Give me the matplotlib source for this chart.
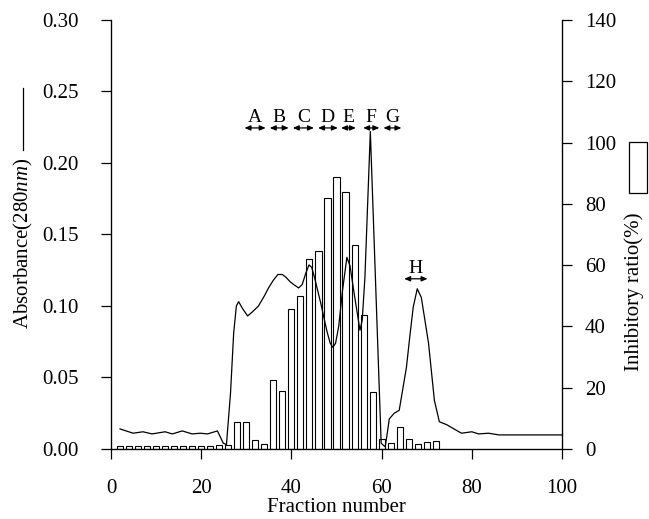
import matplotlib
matplotlib.use("Agg")
import matplotlib.pyplot as plt
from matplotlib.lines import Line2D
from matplotlib.patches import Rectangle

plt.rcParams['font.family'] = 'Liberation Serif'
plt.rcParams['mathtext.fontset'] = 'custom'
plt.rcParams['mathtext.rm'] = 'Liberation Serif'
plt.rcParams['mathtext.it'] = 'Liberation Serif:italic'

# Inhibitory ratio bars (%), one per even fraction
bar_fraction = [2, 4, 6, 8, 10, 12, 14, 16, 18, 20, 22, 24, 26, 28, 30, 32, 34, 36,
                38, 40, 42, 44, 46, 48, 50, 52, 54, 56, 58, 60, 62, 64, 66, 68, 70, 72]
inhibitory = [1.0, 1.0, 1.0, 1.0, 1.0, 1.0, 1.0, 1.0, 1.0, 1.0, 1.0, 1.2, 1.2, 8.8, 8.8, 3.0, 1.6, 22.5,
              19.0, 45.7, 50.0, 62.0, 64.6, 82.0, 88.8, 84.0, 66.6, 43.7, 18.6, 3.4, 1.8, 7.2, 3.3, 1.6, 2.4, 2.6]

# Absorbance at 280 nm
abs_fraction = [2.0, 4.9, 7.1, 9.1, 12.0, 13.6, 15.8, 18.0, 19.8, 21.4, 23.6, 24.9, 25.6, 26.5, 27.2,
                27.8, 28.3, 29.2, 30.3, 31.4, 32.7, 34.0, 35.0, 36.0, 37.0, 38.0, 38.8, 39.7, 40.5,
                41.6, 42.4, 43.2, 43.9, 44.5, 45.2, 46.5, 47.9, 48.6, 49.2, 49.8, 50.5, 51.3, 52.3,
                53.0, 53.9, 55.2, 55.7, 56.3, 57.5, 59.9, 60.8, 61.3, 61.7, 62.8, 63.9, 65.5, 66.3,
                67.0, 67.9, 68.8, 69.6, 70.4, 71.7, 72.8, 74.4, 75.5, 77.7, 80.0, 81.5, 83.7, 86.0,
                100.0]
absorbance = [0.014, 0.011, 0.012, 0.0105, 0.012, 0.0105, 0.0126, 0.0105, 0.011, 0.0105, 0.0126, 0.004,
              0.003, 0.039, 0.081, 0.100, 0.103, 0.098, 0.093, 0.096, 0.100, 0.107, 0.113, 0.118, 0.122,
              0.122, 0.120, 0.117, 0.115, 0.1126, 0.115, 0.123, 0.1287, 0.127, 0.119, 0.102, 0.082,
              0.074, 0.071, 0.074, 0.086, 0.110, 0.134, 0.128, 0.109, 0.083, 0.090, 0.120, 0.222,
              0.004, 0.0015, 0.012, 0.021, 0.025, 0.027, 0.057, 0.080, 0.099, 0.112, 0.106, 0.090,
              0.074, 0.034, 0.019, 0.017, 0.015, 0.011, 0.012, 0.0105, 0.011, 0.0098, 0.0098]

# Pooled fractions
pool_labels = ['A', 'B', 'C', 'D', 'E', 'F', 'G', 'H']
pool_start = [29.6, 35.2, 40.3, 45.9, 51.0, 55.9, 60.4, 65.0]
pool_end = [34.3, 39.4, 45.0, 50.3, 54.3, 59.5, 64.4, 70.2]
pool_level = [0.2245, 0.2245, 0.2245, 0.2245, 0.2245, 0.2245, 0.2245, 0.119]

fig = plt.figure(figsize=(6.49, 5.19), dpi=100)
ax = fig.add_axes([0.171, 0.135, 0.695, 0.8265])
ax2 = ax.twinx()
ax.set_zorder(ax2.get_zorder() + 1)
ax.patch.set_visible(False)

ax2.bar(bar_fraction, inhibitory, width=1.35, facecolor='white', edgecolor='black', linewidth=0.8)
ax.plot(abs_fraction, absorbance, color='black', linewidth=0.9)

for lab, s, e, lv in zip(pool_labels, pool_start, pool_end, pool_level):
    ax.annotate('', xy=(s, lv), xytext=(e, lv),
                arrowprops=dict(arrowstyle='<|-|>,head_length=0.35,head_width=0.15',
                                color='black', lw=0.9, shrinkA=0, shrinkB=0))
    ax.text((s + e) / 2, lv + 0.0015, lab, ha='center', va='bottom', fontsize=14)

ax.set_xlim(0, 100)
ax.set_ylim(0, 0.30)
ax2.set_ylim(0, 140)
ax.set_xticks([0, 20, 40, 60, 80, 100])
ax.set_yticks([0.00, 0.05, 0.10, 0.15, 0.20, 0.25, 0.30])
ax.set_yticklabels(['0.00', '0.05', '0.10', '0.15', '0.20', '0.25', '0.30'])
ax2.set_yticks([0, 20, 40, 60, 80, 100, 120, 140])

for a in (ax, ax2):
    a.spines['top'].set_visible(False)
    a.tick_params(direction='out', length=7.5, width=0.9, labelsize=15)
ax.tick_params(axis='y', pad=16)
ax.tick_params(axis='x', pad=14)
ax2.tick_params(axis='y', pad=9)
ax2.spines['right'].set_linewidth(0.9)
ax.spines['left'].set_linewidth(0.9)
ax.spines['bottom'].set_linewidth(0.9)

ax.set_xlabel('Fraction number', fontsize=15, labelpad=0)

# axis titles with their legend keys
fig.text(0.036, 0.532, 'Absorbance(280$nm$)', rotation=90, ha='center', va='center', fontsize=15)
fig.add_artist(Line2D([0.035, 0.035], [0.711, 0.830], color='black', linewidth=0.9))
fig.text(0.977, 0.437, 'Inhibitory ratio(%)', rotation=90, ha='center', va='center', fontsize=15)
fig.add_artist(Rectangle((0.969, 0.628), 0.028, 0.098, facecolor='white', edgecolor='black',
                         linewidth=0.9, transform=fig.transFigure))

fig.savefig('out.png', dpi=100)
